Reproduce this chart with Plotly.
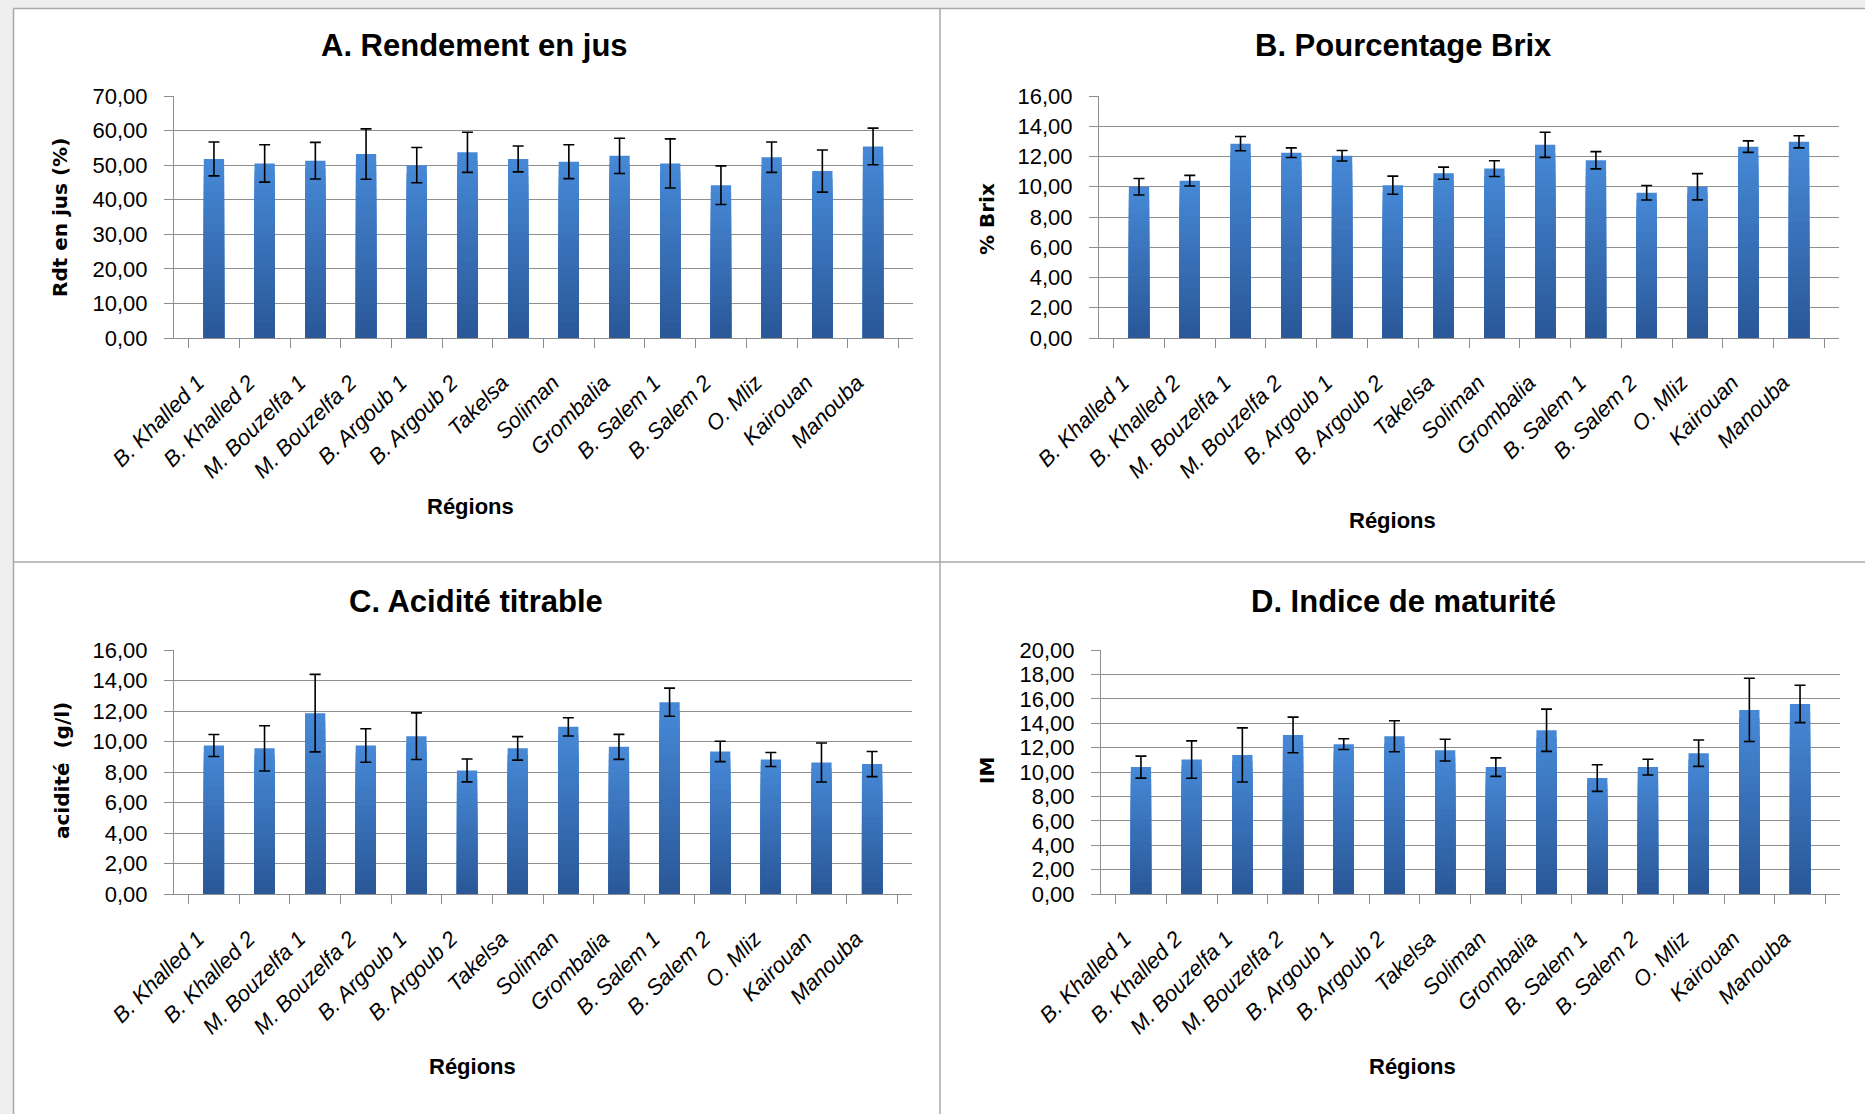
import plotly.graph_objects as go

# ---------------- data ----------------
categories = ["B. Khalled 1", "B. Khalled 2", "M. Bouzelfa 1", "M. Bouzelfa 2",
              "B. Argoub 1", "B. Argoub 2", "Takelsa", "Soliman", "Grombalia",
              "B. Salem 1", "B. Salem 2", "O. Mliz", "Kairouan", "Manouba"]

rendement = [51.8, 50.5, 51.3, 53.2, 50.0, 53.7, 51.8, 51.0, 52.7, 50.5, 44.2, 52.3, 48.3, 55.4]
rendement_err = [4.9, 5.4, 5.3, 7.3, 5.1, 5.8, 3.75, 4.9, 5.1, 7.1, 5.6, 4.4, 6.1, 5.3]

brix = [10.0, 10.4, 12.85, 12.25, 12.05, 10.1, 10.9, 11.2, 12.77, 11.75, 9.6, 10.0, 12.65, 12.97]
brix_err = [0.55, 0.35, 0.47, 0.32, 0.35, 0.6, 0.4, 0.52, 0.83, 0.57, 0.48, 0.87, 0.38, 0.4]

acidite = [9.74, 9.55, 11.86, 9.74, 10.35, 8.1, 9.55, 10.96, 9.65, 12.58, 9.35, 8.82, 8.62, 8.52]
acidite_err = [0.72, 1.48, 2.54, 1.1, 1.53, 0.75, 0.77, 0.6, 0.82, 0.92, 0.67, 0.46, 1.28, 0.82]

maturite = [10.4, 11.02, 11.4, 13.04, 12.28, 12.93, 11.79, 10.4, 13.42, 9.5, 10.4, 11.54, 15.09, 15.58]
maturite_err = [0.9, 1.53, 2.22, 1.46, 0.44, 1.27, 0.89, 0.76, 1.73, 1.09, 0.64, 1.08, 2.59, 1.53]

titles = ["A. Rendement en jus", "B. Pourcentage Brix", "C. Acidité titrable", "D. Indice de maturité"]
y_titles = ["Rdt en jus (%)", "% Brix", "acidité  (g/l)", "IM"]
x_title = "Régions"

# ---------------- layout geometry (pixels) ----------------
W, H = 1865, 1114
panels = [
    dict(vals=rendement, errs=rendement_err, yr=[0, 70], dtick=10,
         px=(174, 913), py=(96, 338), tpos=(474, 46), ytpos=(60, 218), xtpos=(470, 507)),
    dict(vals=brix, errs=brix_err, yr=[0, 16], dtick=2,
         px=(1099, 1839), py=(96, 338), tpos=(1403, 46), ytpos=(987, 219), xtpos=(1392, 520)),
    dict(vals=acidite, errs=acidite_err, yr=[0, 16], dtick=2,
         px=(174, 912), py=(650, 894), tpos=(476, 601), ytpos=(62, 771), xtpos=(472, 1066)),
    dict(vals=maturite, errs=maturite_err, yr=[0, 20], dtick=2,
         px=(1101, 1840), py=(650, 894), tpos=(1403, 601), ytpos=(987, 771), xtpos=(1412, 1066)),
]

def fx(x):
    return x / W

def fy(y):
    return 1 - y / H

TOP = (70, 136, 214)
BOT = (42, 88, 152)
N_STEPS = 22
GRID = "#8e8e8e"

def mix(t):
    r = [round(TOP[i] + (BOT[i] - TOP[i]) * t) for i in range(3)]
    return f"rgb({r[0]},{r[1]},{r[2]})"

fig = go.Figure()
annotations = []

for i, p in enumerate(panels):
    n = "" if i == 0 else str(i + 1)
    xref, yref = "x" + n, "y" + n
    # gradient bars: stacked overlays of the same data, scaled down
    for k in range(N_STEPS):
        f = 1 - k / N_STEPS
        fig.add_trace(go.Bar(
            x=categories, y=[v * f for v in p["vals"]],
            marker=dict(color=mix(k / (N_STEPS - 1)), line=dict(width=0)),
            width=0.4, xaxis=xref, yaxis=yref, showlegend=False, hoverinfo="skip"))
    fig.add_trace(go.Scatter(
        x=categories, y=p["vals"], mode="markers",
        marker=dict(size=1, color="rgba(0,0,0,0)"),
        error_y=dict(type="data", array=p["errs"], color="black", thickness=1.6, width=5.5),
        xaxis=xref, yaxis=yref, showlegend=False, hoverinfo="skip"))

    fig.layout["xaxis" + n] = dict(
        domain=[fx(p["px"][0]), fx(p["px"][1])], anchor=yref, type="category",
        automargin=False,
        showline=True, linecolor=GRID, linewidth=1.2, ticks="outside", tickson="boundaries",
        ticklen=9, tickcolor=GRID, tickwidth=1.2, tickangle=-45, showgrid=False,
        tickfont=dict(family="Liberation Sans", size=22, color="black", style="italic"),
        ticklabelstandoff=22, ticklabelshift=-16, fixedrange=True)
    fig.layout["yaxis" + n] = dict(
        domain=[fy(p["py"][1]), fy(p["py"][0])], anchor=xref, range=p["yr"], dtick=p["dtick"],
        automargin=False,
        tickformat=".2f", showgrid=True, gridcolor=GRID, gridwidth=1.2,
        showline=True, linecolor=GRID, linewidth=1.2, ticks="outside", ticklen=9,
        tickcolor=GRID, tickwidth=1.2, zeroline=False,
        tickfont=dict(family="Liberation Sans", size=22, color="black"),
        ticklabelstandoff=12, fixedrange=True)

    annotations.append(dict(text="<b>" + titles[i] + "</b>", x=fx(p["tpos"][0]), y=fy(p["tpos"][1]),
                            xref="paper", yref="paper", showarrow=False, xanchor="center", yanchor="middle",
                            font=dict(family="Liberation Sans", size=31, color="black")))
    annotations.append(dict(text="<b>" + y_titles[i] + "</b>", x=fx(p["ytpos"][0]), y=fy(p["ytpos"][1]),
                            xref="paper", yref="paper", showarrow=False, textangle=-90,
                            xanchor="center", yanchor="middle",
                            font=dict(family="DejaVu Sans", size=20, color="black")))
    annotations.append(dict(text="<b>" + x_title + "</b>", x=fx(p["xtpos"][0]), y=fy(p["xtpos"][1]),
                            xref="paper", yref="paper", showarrow=False, xanchor="center", yanchor="middle",
                            font=dict(family="Liberation Sans", size=22, color="black")))

LINE = "#a8a8a8"
shapes = [
    dict(type="rect", xref="paper", yref="paper", x0=0, x1=fx(13), y0=0, y1=1,
         fillcolor="#efefef", line=dict(width=0), layer="below"),
    dict(type="rect", xref="paper", yref="paper", x0=0, x1=1, y0=fy(8), y1=1,
         fillcolor="#efefef", line=dict(width=0), layer="below"),
    dict(type="line", xref="paper", yref="paper", x0=fx(13.5), x1=fx(13.5), y0=0, y1=fy(8.5),
         line=dict(color=LINE, width=1.5)),
    dict(type="line", xref="paper", yref="paper", x0=fx(13.5), x1=1, y0=fy(8.5), y1=fy(8.5),
         line=dict(color=LINE, width=1.5)),
    dict(type="line", xref="paper", yref="paper", x0=fx(940), x1=fx(940), y0=0, y1=fy(8.5),
         line=dict(color=LINE, width=1.5)),
    dict(type="line", xref="paper", yref="paper", x0=fx(13.5), x1=1, y0=fy(562), y1=fy(562),
         line=dict(color=LINE, width=1.5)),
]

fig.update_layout(
    template="none",
    width=W, height=H, margin=dict(l=0, r=0, t=0, b=0, pad=0),
    barmode="overlay", separators=", ",
    paper_bgcolor="white", plot_bgcolor="white",
    annotations=annotations, shapes=shapes, showlegend=False,
    font=dict(family="Liberation Sans", color="black"),
)

fig.write_html("out.html", config={"displayModeBar": False},
               post_script="document.body.style.margin='0';document.body.style.overflow='hidden';")
